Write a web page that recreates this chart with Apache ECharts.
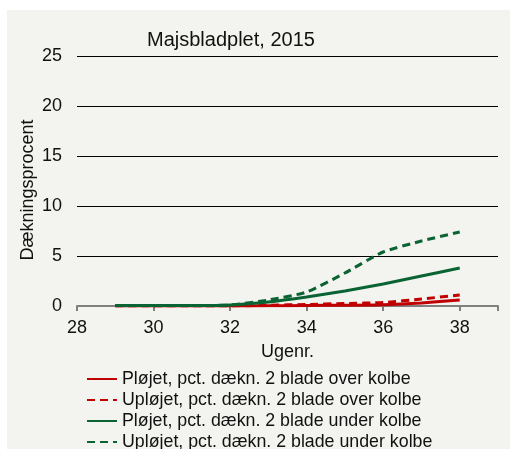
<!DOCTYPE html>
<html>
<head>
<meta charset="utf-8">
<script src="https://cdn.jsdelivr.net/npm/echarts@6/dist/echarts.min.js"></script>
<style>
html,body{margin:0;padding:0;background:#fff;}
#chart{width:510px;height:449px;}
</style>
</head>
<body>
<div id="chart"></div>
<script>
// uge-numre og dækningsprocent pr. serie
var weeks = [29, 30, 31, 32, 33, 34, 35, 36, 37, 38];
var ploejetOver = [0, 0, 0, 0, 0.02, 0.05, 0.08, 0.12, 0.3, 0.6];
var uploejetOver = [0, 0, 0, 0, 0.08, 0.15, 0.25, 0.35, 0.7, 1.1];
var ploejetUnder = [0.05, 0.05, 0.05, 0.1, 0.4, 0.9, 1.5, 2.2, 3.0, 3.8];
var uploejetUnder = [0.05, 0.05, 0.05, 0.1, 0.6, 1.4, 3.3, 5.4, 6.5, 7.4];
var seriesNames = [
  'Pløjet, pct. dækn. 2 blade over kolbe',
  'Upløjet, pct. dækn. 2 blade over kolbe',
  'Pløjet, pct. dækn. 2 blade under kolbe',
  'Upløjet, pct. dækn. 2 blade under kolbe'
];
var red = '#c00000', green = '#0a6332';

function pairs(vals){
  var out = [];
  for (var i = 0; i < weeks.length; i++) out.push([weeks[i], vals[i]]);
  return out;
}

var myChart = echarts.init(document.getElementById('chart'));
var font = 'Liberation Sans, Arial, sans-serif';

function line(name, vals, color, type){
  return {
    name: name, type: 'line', data: pairs(vals), symbol: 'none', smooth: 0.2,
    lineStyle: {color: color, width: 3, type: type},
    itemStyle: {color: color}
  };
}

var option = {
  animation: false,
  textStyle: {fontFamily: font},
  graphic: [{
    type: 'rect', left: 7, top: 10, z: -10,
    shape: {width: 503, height: 439},
    style: {fill: '#f3f3ef'}
  }],
  title: {
    text: 'Majsbladplet, 2015', left: 142, top: 25,
    textStyle: {fontFamily: font, fontSize: 20, fontWeight: 'normal', color: '#111'}
  },
  legend: {
    orient: 'vertical', left: 81, top: 365, height: 90, itemGap: 3,
    itemWidth: 30, itemHeight: 18,
    itemStyle: {opacity: 0},
    textStyle: {fontFamily: font, fontSize: 17.8, color: '#111'},
    data: seriesNames
  },
  grid: {left: 77, right: 12, top: 56, bottom: 143},
  xAxis: {
    type: 'value', min: 28, max: 39, interval: 2,
    name: 'Ugenr.', nameLocation: 'middle', nameGap: 37,
    nameTextStyle: {fontFamily: font, fontSize: 18, color: '#111'},
    axisLine: {show: true, lineStyle: {color: '#808080', width: 2}},
    axisTick: {show: true, length: 5, lineStyle: {color: '#808080', width: 2}},
    axisLabel: {fontFamily: font, fontSize: 18, color: '#111', margin: 13,
      formatter: function(v){ return v <= 38 ? v : ''; }},
    splitLine: {show: false}
  },
  yAxis: {
    type: 'value', min: 0, max: 25, interval: 5,
    name: 'Dækningsprocent', nameLocation: 'middle', nameGap: 40, nameRotate: 90,
    nameMoveOverlap: false,
    nameTextStyle: {fontFamily: font, fontSize: 18, color: '#111', padding: [0, 0, 0, -18]},
    axisLine: {show: false},
    axisTick: {show: false},
    axisLabel: {fontFamily: font, fontSize: 18, color: '#111', margin: 15},
    splitLine: {show: true, lineStyle: {color: '#000', width: 1.2}}
  },
  series: [
    line(seriesNames[0], ploejetOver, red, 'solid'),
    line(seriesNames[1], uploejetOver, red, [8, 5]),
    line(seriesNames[2], ploejetUnder, green, 'solid'),
    line(seriesNames[3], uploejetUnder, green, [8, 5])
  ]
};
myChart.setOption(option);
</script>
</body>
</html>
